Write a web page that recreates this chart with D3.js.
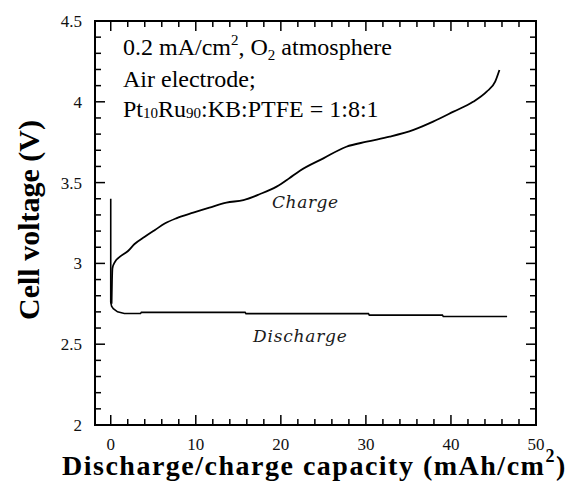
<!DOCTYPE html>
<html>
<head>
<meta charset="utf-8">
<script src="https://cdn.jsdelivr.net/npm/d3@7"></script>
<style>
  body { margin: 0; background: #fff; }
  svg { display: block; }
</style>
</head>
<body>
<svg width="581" height="483"></svg>
<script>
// capacity (mAh/cm2) vs cell voltage (V)
const dischargeCap = [0, 0, 0.1, 0.3, 0.8, 1.6, 3.5, 3.6, 15.8, 15.9, 30.3, 30.4, 39.0, 39.1, 46.6];
const dischargeV   = [3.40, 2.76, 2.735, 2.72, 2.70, 2.69, 2.69, 2.697, 2.697, 2.689, 2.689, 2.68, 2.68, 2.671, 2.671];

const chargeCap = [0.1, 0.15, 0.2, 0.5, 1.05, 2.0, 2.8, 4.0, 5.2, 6.4, 7.7, 9.7, 11.6, 13.6, 15.6,
                   17.5, 19.5, 21.0, 22.2, 25.0, 27.7, 30.1, 32.8, 35.6, 37.9, 40.3, 42.6, 44.2, 45.2, 45.7];
const chargeV   = [2.75, 2.90, 2.97, 3.01, 3.04, 3.075, 3.12, 3.165, 3.207, 3.248, 3.279, 3.314, 3.345, 3.376, 3.392,
                   3.428, 3.475, 3.527, 3.572, 3.65, 3.722, 3.753, 3.784, 3.826, 3.877, 3.939, 4.0, 4.063, 4.125, 4.197];

const xTicks = [0, 10, 20, 30, 40, 50];
const xTickLabels = ["0", "10", "20", "30", "40", "50"];
const yTicks = [2, 2.5, 3, 3.5, 4, 4.5];
const yTickLabels = ["2", "2.5", "3", "3.5", "4", "4.5"];

const svg = d3.select("svg");
const plotL = 95, plotR = 536, plotT = 21, plotB = 425;

const x = d3.scaleLinear().domain([-1.85, 50]).range([plotL, plotR]);
const y = d3.scaleLinear().domain([2, 4.5]).range([plotB, plotT]);

const xMinor = d3.range(0, 50, 2).filter(d => d % 10 !== 0);
const yMinor = d3.range(2, 4.5, 0.1).map(d => +d.toFixed(1)).filter(d => Math.round(d * 10) % 5 !== 0);

// frame
svg.append("rect")
  .attr("x", plotL).attr("y", plotT)
  .attr("width", plotR - plotL).attr("height", plotB - plotT)
  .attr("fill", "none").attr("stroke", "#000").attr("stroke-width", 2);

// tick marks pointing inward on all four sides
const xAll = xTicks.map(v => ({ v, len: 10 })).concat(xMinor.map(v => ({ v, len: 6 })));
const yAll = yTicks.map(v => ({ v, len: 10 })).concat(yMinor.map(v => ({ v, len: 6 })));
const tk = svg.append("g").attr("stroke", "#000").attr("stroke-width", 1.5);
xAll.forEach(d => {
  tk.append("line").attr("x1", x(d.v)).attr("x2", x(d.v)).attr("y1", plotB).attr("y2", plotB - d.len);
  tk.append("line").attr("x1", x(d.v)).attr("x2", x(d.v)).attr("y1", plotT).attr("y2", plotT + d.len);
});
yAll.forEach(d => {
  tk.append("line").attr("y1", y(d.v)).attr("y2", y(d.v)).attr("x1", plotL).attr("x2", plotL + d.len);
  tk.append("line").attr("y1", y(d.v)).attr("y2", y(d.v)).attr("x1", plotR).attr("x2", plotR - d.len);
});

// tick labels
const lab = svg.append("g")
  .attr("font-family", "'Liberation Serif', 'Times New Roman', serif")
  .attr("font-size", 17).attr("fill", "#111");
xTicks.forEach((v, i) => {
  lab.append("text").attr("x", x(v)).attr("y", 450).attr("text-anchor", "middle").text(xTickLabels[i]);
});
yTicks.forEach((v, i) => {
  lab.append("text").attr("x", 82).attr("y", y(v) + 6).attr("text-anchor", "end").text(yTickLabels[i]);
});

// curves
const line = d3.line().x(d => x(d[0])).y(d => y(d[1]));

svg.append("path")
  .datum(d3.zip(dischargeCap, dischargeV))
  .attr("fill", "none").attr("stroke", "#000").attr("stroke-width", 1.6)
  .attr("d", line);

svg.append("path")
  .datum(d3.zip(chargeCap, chargeV))
  .attr("fill", "none").attr("stroke", "#000").attr("stroke-width", 1.8)
  .attr("d", line.curve(d3.curveMonotoneX));

// annotation block
const note = svg.append("g")
  .attr("font-family", "'Liberation Serif', 'Times New Roman', serif")
  .attr("font-size", 24).attr("fill", "#000");

const t1 = note.append("text").attr("x", 123).attr("y", 55);
t1.append("tspan").text("0.2 mA/cm");
t1.append("tspan").attr("font-size", 15).attr("dy", -10).text("2");
t1.append("tspan").attr("dy", 10).text(", O");
t1.append("tspan").attr("font-size", 15).attr("dy", 5).text("2");
t1.append("tspan").attr("dy", -5).text(" atmosphere");

note.append("text").attr("x", 123).attr("y", 87).text("Air electrode;");

const t3 = note.append("text").attr("x", 123).attr("y", 117);
t3.append("tspan").text("Pt");
t3.append("tspan").attr("font-size", 15).attr("dy", 1).text("10");
t3.append("tspan").attr("dy", -1).text("Ru");
t3.append("tspan").attr("font-size", 15).attr("dy", 1).text("90");
t3.append("tspan").attr("dy", -1).text(":KB:PTFE = 1:8:1");

// curve labels
svg.append("text").attr("x", 272).attr("y", 208)
  .attr("font-family", "'DejaVu Serif', serif").attr("font-style", "italic")
  .attr("font-size", 17).attr("fill", "#1a1a1a").attr("letter-spacing", 0.6)
  .text("Charge");

svg.append("text").attr("x", 253).attr("y", 342)
  .attr("font-family", "'DejaVu Serif', serif").attr("font-style", "italic")
  .attr("font-size", 17).attr("fill", "#1a1a1a").attr("letter-spacing", 0.8)
  .text("Discharge");

// axis titles
const xt = svg.append("text").attr("x", 62).attr("y", 475)
  .attr("font-family", "'Liberation Serif', 'Times New Roman', serif")
  .attr("font-weight", "bold").attr("font-size", 28).attr("letter-spacing", 1.5)
  .attr("fill", "#000");
xt.append("tspan").text("Discharge/charge capacity (mAh/cm");
xt.append("tspan").attr("font-size", 18).attr("dy", -13).text("2");
xt.append("tspan").attr("dy", 13).text(")");

svg.append("text")
  .attr("transform", "translate(39,220) rotate(-90)")
  .attr("text-anchor", "middle")
  .attr("font-family", "'Liberation Serif', 'Times New Roman', serif")
  .attr("font-weight", "bold").attr("font-size", 30).attr("fill", "#000")
  .text("Cell voltage (V)");
</script>
</body>
</html>
